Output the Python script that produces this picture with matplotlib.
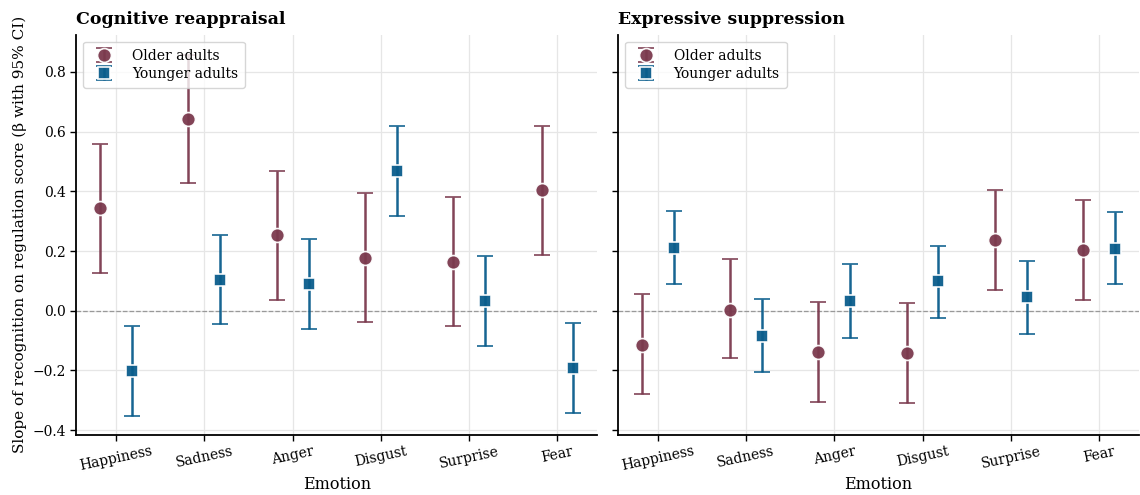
import matplotlib
matplotlib.use("Agg")
import matplotlib.pyplot as plt
import numpy as np

emotions = ["Happiness", "Sadness", "Anger", "Disgust", "Surprise", "Fear"]

# Cognitive reappraisal
cr_old_est = [0.345, 0.643, 0.253, 0.178, 0.164, 0.404]
cr_old_lo = [0.128, 0.429, 0.037, -0.039, -0.052, 0.187]
cr_old_hi = [0.558, 0.857, 0.469, 0.396, 0.382, 0.620]
cr_young_est = [-0.201, 0.104, 0.089, 0.468, 0.031, -0.191]
cr_young_lo = [-0.351, -0.046, -0.060, 0.317, -0.118, -0.341]
cr_young_hi = [-0.051, 0.255, 0.242, 0.618, 0.184, -0.040]

# Expressive suppression
es_old_est = [-0.115, 0.004, -0.138, -0.140, 0.237, 0.204]
es_old_lo = [-0.280, -0.160, -0.305, -0.308, 0.071, 0.036]
es_old_hi = [0.055, 0.173, 0.029, 0.027, 0.405, 0.370]
es_young_est = [0.211, -0.083, 0.032, 0.099, 0.045, 0.208]
es_young_lo = [0.089, -0.204, -0.090, -0.024, -0.078, 0.088]
es_young_hi = [0.335, 0.040, 0.155, 0.218, 0.167, 0.331]

titles = ["Cognitive reappraisal", "Expressive suppression"]
group_labels = ["Older adults", "Younger adults"]
yticks = [-0.4, -0.2, 0.0, 0.2, 0.4, 0.6, 0.8]

OLD_C = "#7b3a4e"
YOUNG_C = "#0a5d8c"

plt.rcParams["font.family"] = ["DejaVu Serif"]

fig, axes = plt.subplots(1, 2, figsize=(11.4, 4.95), dpi=100, sharey=True)
fig.subplots_adjust(left=0.067, right=0.999, top=0.93, bottom=0.122, wspace=0.04)

panels = [
    (cr_old_est, cr_old_lo, cr_old_hi, cr_young_est, cr_young_lo, cr_young_hi),
    (es_old_est, es_old_lo, es_old_hi, es_young_est, es_young_lo, es_young_hi),
]

x = np.arange(len(emotions))
off = 0.18
for ax, title, data in zip(axes, titles, panels):
    oe, ol, oh, ye, yl, yh = [np.array(d) for d in data]
    ax.axhline(0, color="#999999", lw=0.9, ls="--", zorder=1)
    ax.errorbar(x - off, oe, yerr=[oe - ol, oh - oe], fmt="o", color=OLD_C,
                ecolor=OLD_C, elinewidth=1.8, capsize=6, capthick=1.8,
                markersize=10, markeredgecolor="white", markeredgewidth=1.2,
                label=group_labels[0], zorder=3, alpha=0.95)
    ax.errorbar(x + off, ye, yerr=[ye - yl, yh - ye], fmt="s", color=YOUNG_C,
                ecolor=YOUNG_C, elinewidth=1.8, capsize=6, capthick=1.8,
                markersize=9, markeredgecolor="white", markeredgewidth=1.2,
                label=group_labels[1], zorder=3, alpha=0.95)
    ax.set_xticks(x)
    ax.set_xticklabels(emotions, rotation=12, fontsize=10)
    ax.set_xlim(-0.45, 5.45)
    ax.set_ylim(-0.415, 0.925)
    ax.set_yticks(yticks)
    ax.grid(True, color="#e6e6e6", lw=0.9, zorder=0)
    ax.set_axisbelow(True)
    ax.spines["top"].set_visible(False)
    ax.spines["right"].set_visible(False)
    ax.spines["left"].set_linewidth(1.3)
    ax.spines["bottom"].set_linewidth(1.3)
    ax.tick_params(axis="both", labelsize=10, length=4, width=1)
    ax.tick_params(axis="x", pad=3)
    ax.set_title(title, loc="left", fontweight="bold", fontsize=12.5, pad=8)
    ax.set_xlabel("Emotion", fontsize=11.5, labelpad=2)
    ax.legend(loc="upper left", fontsize=10, frameon=True, edgecolor="#cccccc",
              fancybox=True, borderpad=0.5, handletextpad=1.0, labelspacing=0.3)

axes[0].set_ylabel("Slope of recognition on regulation score (\u03b2 with 95% CI)", fontsize=11)
axes[0].yaxis.set_major_formatter(matplotlib.ticker.FuncFormatter(lambda v, p: f"{v:.1f}".replace("-", "\u2212")))

fig.savefig("out.png", dpi=100)
